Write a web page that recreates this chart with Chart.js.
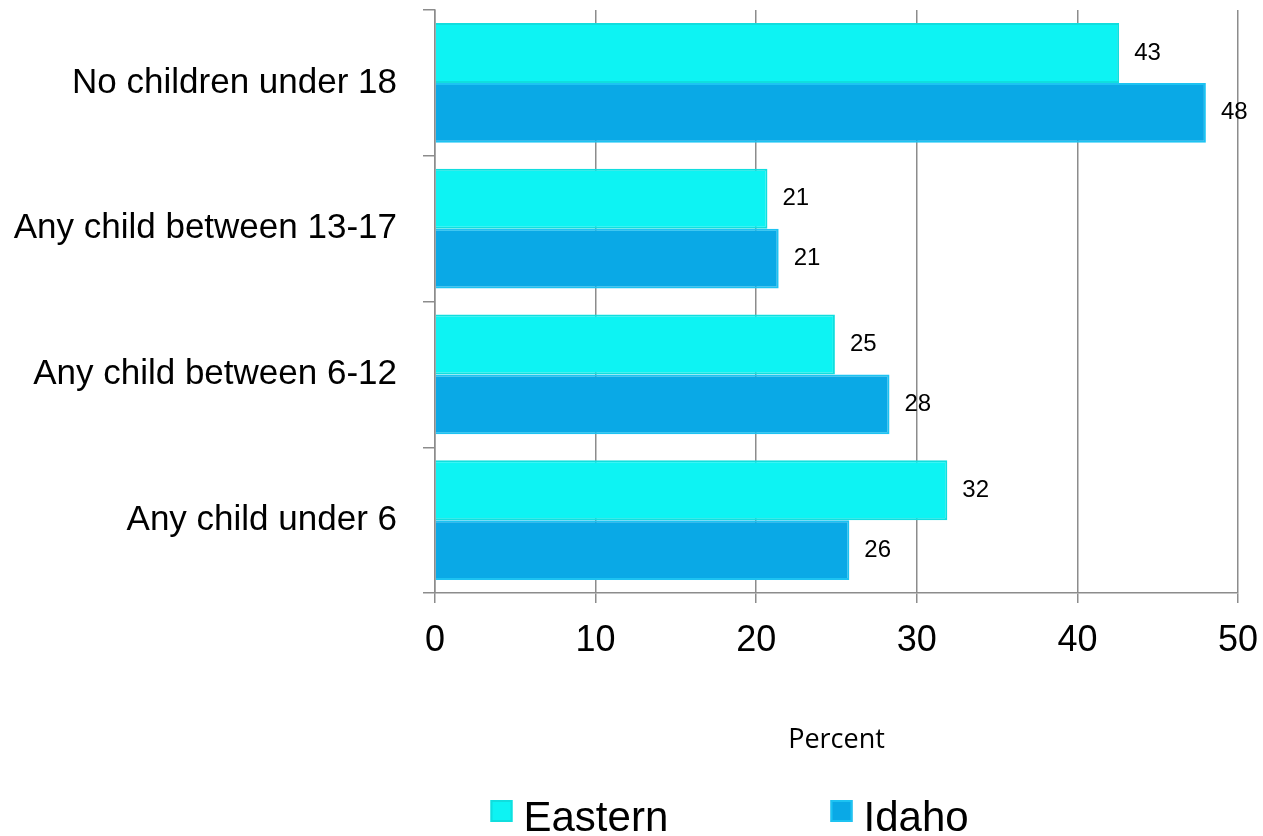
<!DOCTYPE html>
<html>
<head>
<meta charset="utf-8">
<script src="https://cdn.jsdelivr.net/npm/chart.js@4/dist/chart.umd.min.js"></script>
<style>
html,body{margin:0;padding:0;background:#fff;}
#wrap{width:1263px;height:836px;position:relative;}
</style>
</head>
<body>
<div id="wrap"><canvas id="c" width="1263" height="836"></canvas></div>
<script>
const categories = ["No children under 18", "Any child between 13-17", "Any child between 6-12", "Any child under 6"];
const seriesNames = ["Eastern", "Idaho"];
const easternValues = [42.6, 20.7, 24.9, 31.9];
const idahoValues = [48.0, 21.4, 28.3, 25.8];
const xTicks = [0, 10, 20, 30, 40, 50];
const axisTitle = "Percent";

const fillColors = ["#0DF3F3", "#0AA9E6"];
const edgeColors = ["#10DEDE", "#1DC3F2"];

const valueLabels = {
  id: 'valueLabels',
  afterDatasetsDraw(chart) {
    const ctx = chart.ctx;
    ctx.save();
    ctx.font = '24px "Liberation Sans", Arial, sans-serif';
    ctx.fillStyle = '#000';
    ctx.textAlign = 'left';
    ctx.textBaseline = 'middle';
    chart.data.datasets.forEach((ds, di) => {
      chart.getDatasetMeta(di).data.forEach((bar, i) => {
        ctx.fillText(String(Math.round(ds.data[i])), bar.x + 15, bar.y);
      });
    });
    ctx.restore();
  }
};

const customLegend = {
  id: 'customLegend',
  afterDraw(chart) {
    const ctx = chart.ctx;
    const ca = chart.chartArea;
    const cx = (ca.left + ca.right) / 2;
    const offs = [-346, -6];
    ctx.save();
    ctx.font = '42px "Liberation Sans", Arial, sans-serif';
    ctx.textBaseline = 'alphabetic';
    ctx.textAlign = 'left';
    chart.data.datasets.forEach((ds, i) => {
      const bx = cx + offs[i];
      const by = 800;
      ctx.fillStyle = ds.backgroundColor;
      ctx.fillRect(bx, by, 22, 22);
      ctx.lineWidth = 2;
      ctx.strokeStyle = ds.borderColor;
      ctx.strokeRect(bx + 1, by + 1, 20, 20);
      ctx.fillStyle = '#000';
      ctx.fillText(ds.label, bx + 33, 831);
    });
    ctx.restore();
  }
};

new Chart(document.getElementById('c'), {
  type: 'bar',
  data: {
    labels: categories,
    datasets: [
      { label: seriesNames[0], data: easternValues, backgroundColor: fillColors[0], borderColor: edgeColors[0], borderWidth: 2, borderSkipped: 'left' },
      { label: seriesNames[1], data: idahoValues, backgroundColor: fillColors[1], borderColor: edgeColors[1], borderWidth: 2, borderSkipped: 'left' }
    ]
  },
  options: {
    indexAxis: 'y',
    responsive: false,
    animation: false,
    devicePixelRatio: 1,
    datasets: { bar: { categoryPercentage: 0.82, barPercentage: 1.0 } },
    layout: { padding: { left: 0, right: 25, top: 10, bottom: 70 } },
    plugins: { legend: { display: false }, tooltip: { enabled: false } },
    scales: {
      x: {
        min: 0, max: 50,
        afterBuildTicks(scale) { scale.ticks = xTicks.map(v => ({ value: v })); },
        afterFit(scale) { scale.height = 173; scale.paddingLeft = 0; scale.paddingRight = 0; },
        grid: { color: '#8c8c8c', lineWidth: 1.5, tickLength: 10, drawOnChartArea: true },
        border: { color: '#8c8c8c', width: 1.5 },
        ticks: { color: '#000', font: { family: '"Liberation Sans", Arial, sans-serif', size: 36 }, padding: 16 },
        title: { display: true, text: axisTitle, color: '#000', font: { family: '"Open Sans", sans-serif', size: 27 }, padding: { top: 0, bottom: 9 } }
      },
      y: {
        afterFit(scale) { scale.width = 435; scale.paddingTop = 0; scale.paddingBottom = 0; },
        grid: { color: '#8c8c8c', lineWidth: 1.5, tickLength: 12, drawOnChartArea: false, offset: true },
        border: { color: '#8c8c8c', width: 1.5 },
        ticks: { color: '#000', font: { family: '"Liberation Sans", Arial, sans-serif', size: 35 }, padding: 26 }
      }
    }
  },
  plugins: [valueLabels, customLegend]
});
</script>
</body>
</html>
